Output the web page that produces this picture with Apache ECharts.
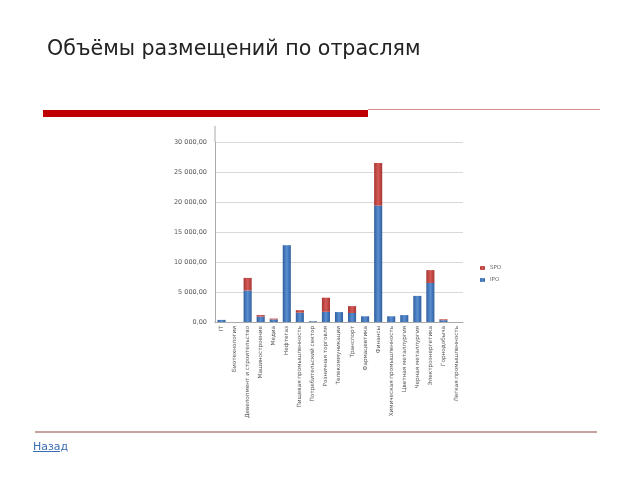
<!DOCTYPE html>
<html><head><meta charset="utf-8">
<script src="https://cdn.jsdelivr.net/npm/echarts@6/dist/echarts.min.js"></script>
<style>
html,body{margin:0;padding:0;background:#fff;width:640px;height:480px;overflow:hidden;}
#c{position:absolute;left:0;top:0;width:640px;height:480px;}
#t{position:absolute;left:47px;top:36px;font-family:"DejaVu Sans",sans-serif;font-size:20.6px;color:#222;white-space:nowrap;}
#r1{position:absolute;left:43px;top:110px;width:325px;height:7px;background:#c00000;}
#r2{position:absolute;left:368px;top:109px;width:232px;height:1px;background:#d98c8c;}
#r3{position:absolute;left:35px;top:431px;width:562px;height:2px;background:#c9a19d;}
#b{position:absolute;left:33px;top:440px;font-family:"DejaVu Sans",sans-serif;font-size:11px;color:#3b6db5;text-decoration:underline;}
</style></head>
<body>
<div id="c"></div>
<div id="t">Объёмы размещений по отраслям</div>
<div id="r1"></div><div id="r2"></div><div id="r3"></div>
<div id="b">Назад</div>
<script>
const categories = ["IT","Биотехнологии","Девелопмент и строительство","Машиностроение","Медиа","Нефтегаз","Пищевая промышленность","Потребительский сектор","Розничная торговля","Телекоммуникации","Транспорт","Фармацевтика","Финансы","Химическая промышленность","Цветная металлургия","Черная металлургия","Электроэнергетика","Горнодобыча","Легкая промышленность"];
const ipo = [350,0,5250,900,420,12800,1550,120,1700,1650,1500,950,19400,950,1150,4350,6500,300,0];
const spo = [0,0,2100,260,150,0,420,0,2350,0,1150,0,7100,0,0,0,2150,150,0];
const yTicks = [0,5000,10000,15000,20000,25000,30000];

function fmt(v){
  const s = String(Math.round(v));
  return s.replace(/\B(?=(\d{3})+(?!\d))/g,' ') + ',00';
}
const blue = new echarts.graphic.LinearGradient(0,0,1,0,[{offset:0,color:'#2f5f9e'},{offset:0.5,color:'#5a8fd2'},{offset:1,color:'#2f5f9e'}]);
const red = new echarts.graphic.LinearGradient(0,0,1,0,[{offset:0,color:'#a83532'},{offset:0.5,color:'#d35a57'},{offset:1,color:'#a83532'}]);

const chart = echarts.init(document.getElementById('c'));
chart.setOption({
  animation:false,
  grid:{left:215,right:177,top:142,bottom:158},
  legend:{
    orient:'vertical', left:475, top:260, itemWidth:5, itemHeight:4, itemGap:6,
    textStyle:{fontSize:5.5,color:'#666',fontFamily:'DejaVu Sans'},
    data:['SPO','IPO']
  },
  xAxis:{
    type:'category', data:categories,
    axisLine:{lineStyle:{color:'#aaa'}},
    axisTick:{show:false},
    axisLabel:{rotate:90, interval:0, fontSize:5.7, color:'#555', fontFamily:'DejaVu Sans', margin:4}
  },
  yAxis:{
    type:'value', min:yTicks[0], max:yTicks[yTicks.length-1], interval:yTicks[1]-yTicks[0],
    axisLine:{show:true,lineStyle:{color:'#aaa'}},
    axisTick:{show:false},
    splitLine:{lineStyle:{color:'#d9d9d9'}},
    axisLabel:{fontSize:6.5, color:'#555', fontFamily:'DejaVu Sans', margin:8, formatter:fmt}
  },
  series:[
    {name:'IPO', type:'bar', stack:'a', data:ipo, barWidth:'62%', itemStyle:{color:blue}},
    {name:'SPO', type:'bar', stack:'a', data:spo, barWidth:'62%', itemStyle:{color:red}}
  ],
  graphic:[{type:'line', shape:{x1:215,y1:126,x2:215,y2:142}, style:{stroke:'#aaa',lineWidth:1}}]
});
</script>
</body></html>
